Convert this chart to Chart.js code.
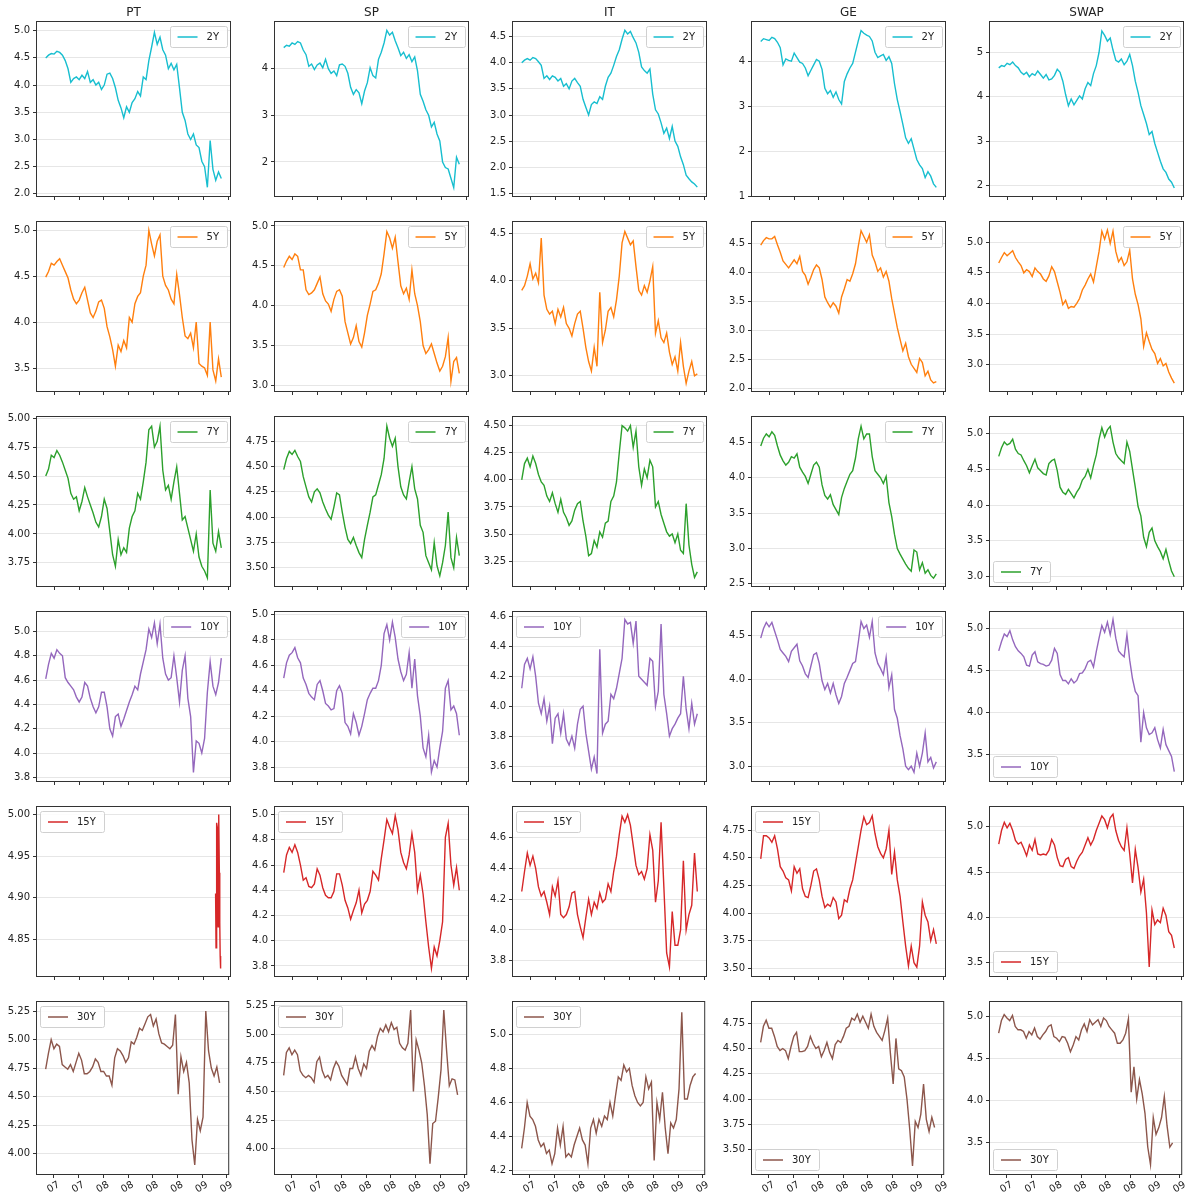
<!DOCTYPE html>
<html>
<head>
<meta charset="utf-8">
<script src="https://cdn.jsdelivr.net/npm/chart.js@4.4.1/dist/chart.umd.min.js"></script>
<style>
  body { margin: 0; background: #fff; }
  #grid { position: relative; width: 1192px; height: 1196px; }
  #grid canvas { position: absolute; }
</style>
</head>
<body>
<div id="grid"></div>
<script>
// columns / rows of the grid
const markets = ['PT', 'SP', 'IT', 'GE', 'SWAP'];
const tenors = ['2Y', '5Y', '7Y', '10Y', '15Y', '30Y'];

// x axis: months counted from Jan-2007, ticks every quarter (Jul-07 .. Apr-09)
const xTickMonths = [6, 9, 12, 15, 18, 21, 24, 27];
const xTickLabels = ['07', '07', '08', '08', '08', '08', '09', '09'];
const firstMonth = 5.0;    // first observation, ~Jun-2007
const stepMonth = 0.335;   // ~10 days between samples

// ---- 2Y ----
const PT_2Y = [4.50,4.55,4.58,4.57,4.62,4.60,4.55,4.45,4.30,4.05,4.12,4.15,4.10,4.18,4.12,4.25,
  4.05,4.10,4.00,4.05,3.92,4.00,4.20,4.22,4.12,3.95,3.72,3.58,3.40,3.60,3.50,3.68,
  3.75,3.88,3.80,4.15,4.10,4.45,4.70,4.97,4.75,4.88,4.65,4.55,4.30,4.40,4.28,4.38,
  3.95,3.50,3.35,3.10,3.00,3.10,2.90,2.85,2.60,2.50,2.12,2.98,2.45,2.25,2.40,2.28];
const SP_2Y = [4.45,4.50,4.48,4.55,4.52,4.58,4.55,4.40,4.30,4.05,4.10,3.98,4.08,4.12,4.02,4.20,
  4.00,3.90,3.95,3.85,4.08,4.10,4.05,3.90,3.60,3.45,3.55,3.48,3.25,3.52,3.70,4.02,
  3.85,3.80,4.20,4.35,4.55,4.82,4.72,4.78,4.60,4.45,4.28,4.35,4.22,4.30,4.15,4.25,
  3.95,3.45,3.30,3.12,3.00,2.75,2.85,2.60,2.45,2.00,1.88,1.85,1.65,1.45,2.10,1.95];
const IT_2Y = [4.00,4.05,4.08,4.05,4.10,4.08,4.02,3.95,3.70,3.75,3.68,3.75,3.72,3.65,3.70,3.55,
  3.60,3.50,3.65,3.70,3.62,3.55,3.30,3.15,3.00,3.20,3.25,3.22,3.35,3.30,3.55,3.72,
  3.80,3.95,4.12,4.25,4.45,4.62,4.55,4.60,4.48,4.38,4.20,3.92,3.85,3.80,3.88,3.40,
  3.10,3.02,2.85,2.65,2.75,2.55,2.78,2.50,2.40,2.20,2.05,1.85,1.78,1.72,1.68,1.62];
const GE_2Y = [4.44,4.50,4.48,4.46,4.53,4.50,4.42,4.30,3.92,4.05,4.02,4.00,4.18,4.08,3.98,3.95,
  3.85,3.68,3.80,3.92,4.04,4.00,3.82,3.40,3.28,3.35,3.20,3.32,3.15,3.05,3.55,3.72,
  3.85,3.95,4.20,4.45,4.68,4.62,4.58,4.55,4.45,4.20,4.08,4.12,4.15,4.02,4.10,3.95,
  3.50,3.15,2.88,2.60,2.30,2.18,2.28,2.05,1.82,1.70,1.62,1.42,1.55,1.45,1.28,1.20];
const SWAP_2Y = [4.65,4.70,4.68,4.75,4.72,4.78,4.70,4.65,4.55,4.50,4.55,4.45,4.52,4.48,4.58,4.50,
  4.42,4.50,4.38,4.40,4.48,4.62,4.55,4.35,4.05,3.80,3.95,3.82,3.92,4.02,3.95,4.18,
  4.32,4.25,4.52,4.70,5.00,5.48,5.38,5.25,5.32,5.05,4.82,4.78,4.85,4.72,4.80,4.95,
  4.70,4.35,4.10,3.80,3.60,3.40,3.15,3.22,2.95,2.75,2.55,2.38,2.30,2.15,2.08,1.95];

// ---- 5Y ----
const PT_5Y = [4.49,4.55,4.64,4.62,4.66,4.69,4.62,4.55,4.48,4.35,4.25,4.20,4.24,4.32,4.38,4.24,
  4.10,4.05,4.12,4.22,4.24,4.15,3.95,3.84,3.70,3.52,3.75,3.68,3.80,3.72,4.05,4.00,
  4.20,4.28,4.32,4.50,4.62,5.00,4.85,4.72,4.88,4.95,4.50,4.40,4.35,4.25,4.20,4.52,
  4.30,4.05,3.85,3.82,3.88,3.72,4.00,3.55,3.52,3.50,3.42,4.00,3.48,3.36,3.60,3.40];
const SP_5Y = [4.48,4.56,4.62,4.58,4.65,4.62,4.45,4.45,4.20,4.14,4.16,4.20,4.28,4.36,4.15,4.06,
  4.02,3.93,4.08,4.18,4.20,4.12,3.80,3.66,3.52,3.60,3.75,3.55,3.48,3.66,3.88,4.02,
  4.18,4.20,4.28,4.40,4.65,4.93,4.85,4.72,4.86,4.55,4.25,4.15,4.22,4.08,4.45,4.15,
  4.00,3.80,3.50,3.40,3.45,3.52,3.40,3.28,3.18,3.24,3.36,3.60,3.05,3.30,3.35,3.15];
const IT_5Y = [3.90,3.95,4.05,4.18,4.02,4.08,3.98,4.45,3.85,3.70,3.65,3.68,3.55,3.70,3.62,3.72,
  3.55,3.50,3.42,3.55,3.65,3.68,3.50,3.30,3.15,3.05,3.30,3.10,3.88,3.35,3.48,3.68,
  3.72,3.62,3.80,4.05,4.40,4.52,4.45,4.38,4.42,4.15,3.90,3.85,3.95,3.88,4.00,4.15,
  3.45,3.58,3.40,3.35,3.45,3.25,3.12,3.20,3.05,3.35,3.10,2.92,3.05,3.15,3.00,3.02];
const GE_5Y = [4.47,4.55,4.60,4.58,4.58,4.62,4.48,4.35,4.20,4.14,4.08,4.15,4.22,4.15,4.28,4.02,
  3.95,3.80,3.92,4.05,4.13,4.08,3.88,3.58,3.48,3.40,3.48,3.42,3.30,3.58,3.72,3.88,
  3.85,3.98,4.15,4.45,4.72,4.62,4.52,4.65,4.30,4.18,4.02,4.08,3.92,4.02,3.85,3.55,
  3.30,3.05,2.85,2.65,2.78,2.55,2.42,2.35,2.28,2.52,2.45,2.22,2.30,2.15,2.10,2.12];
const SWAP_5Y = [4.66,4.75,4.83,4.78,4.82,4.86,4.75,4.68,4.62,4.50,4.55,4.52,4.44,4.58,4.52,4.48,
  4.40,4.36,4.45,4.60,4.52,4.35,4.18,3.98,4.05,3.92,3.95,3.94,4.00,4.08,4.22,4.30,
  4.40,4.48,4.35,4.60,4.85,5.18,5.05,5.20,4.98,5.18,4.85,4.68,4.75,4.62,4.68,4.87,
  4.40,4.15,3.98,3.75,3.30,3.52,3.38,3.25,3.18,3.02,3.10,2.98,3.02,2.88,2.78,2.70];

// ---- 7Y ----
const PT_7Y = [4.50,4.56,4.68,4.66,4.72,4.68,4.62,4.55,4.48,4.35,4.30,4.32,4.20,4.28,4.40,4.32,
  4.25,4.18,4.10,4.06,4.15,4.30,4.22,4.02,3.82,3.72,3.95,3.82,3.88,3.84,4.05,4.15,
  4.20,4.35,4.30,4.45,4.62,4.90,4.93,4.75,4.80,4.93,4.55,4.38,4.42,4.30,4.45,4.58,
  4.35,4.12,4.15,4.05,3.95,3.85,4.00,3.80,3.72,3.68,3.62,4.38,3.92,3.85,4.02,3.88];
const SP_7Y = [4.47,4.58,4.65,4.62,4.66,4.60,4.55,4.40,4.30,4.20,4.15,4.25,4.28,4.24,4.15,4.08,
  4.02,3.98,4.10,4.24,4.22,4.05,3.90,3.78,3.74,3.80,3.72,3.65,3.60,3.78,3.92,4.05,
  4.20,4.22,4.32,4.42,4.58,4.90,4.78,4.70,4.78,4.50,4.30,4.22,4.18,4.35,4.50,4.28,
  4.18,3.92,3.85,3.62,3.55,3.48,3.75,3.52,3.42,3.55,3.72,4.05,3.60,3.50,3.80,3.62];
const IT_7Y = [4.00,4.15,4.20,4.12,4.22,4.15,4.05,3.98,3.95,3.85,3.80,3.88,3.78,3.70,3.82,3.70,
  3.65,3.58,3.62,3.72,3.78,3.80,3.62,3.48,3.30,3.32,3.44,3.38,3.52,3.47,3.60,3.62,
  3.80,3.85,3.98,4.25,4.50,4.48,4.45,4.50,4.30,4.45,4.12,3.95,4.10,4.02,4.18,4.12,
  3.75,3.80,3.68,3.60,3.52,3.48,3.50,3.42,3.50,3.35,3.32,3.78,3.40,3.22,3.10,3.15];
const GE_7Y = [4.45,4.56,4.62,4.58,4.65,4.60,4.45,4.32,4.24,4.18,4.22,4.30,4.28,4.34,4.15,4.08,
  4.02,3.92,4.05,4.18,4.22,4.15,3.90,3.75,3.70,3.76,3.62,3.55,3.48,3.72,3.85,3.95,
  4.05,4.10,4.28,4.55,4.73,4.55,4.62,4.62,4.30,4.10,4.05,4.00,3.92,4.02,3.65,3.45,
  3.20,3.00,2.92,2.85,2.78,2.72,2.68,2.98,2.95,2.70,2.80,2.65,2.70,2.62,2.58,2.64];
const SWAP_7Y = [4.68,4.80,4.88,4.84,4.86,4.92,4.78,4.72,4.70,4.62,4.55,4.45,4.55,4.64,4.52,4.48,
  4.44,4.42,4.58,4.62,4.64,4.48,4.25,4.18,4.15,4.22,4.16,4.10,4.18,4.24,4.35,4.40,
  4.50,4.38,4.55,4.70,4.92,5.08,4.95,5.05,5.10,4.88,4.72,4.66,4.62,4.58,4.88,4.75,
  4.50,4.25,3.98,3.85,3.55,3.42,3.62,3.68,3.50,3.42,3.35,3.25,3.38,3.22,3.08,3.00];

// ---- 10Y ----
const PT_10Y = [4.61,4.73,4.82,4.78,4.85,4.82,4.80,4.62,4.58,4.55,4.52,4.46,4.42,4.46,4.58,4.55,
  4.45,4.38,4.33,4.38,4.50,4.50,4.38,4.20,4.14,4.30,4.32,4.22,4.28,4.35,4.42,4.48,
  4.55,4.52,4.65,4.75,4.85,5.02,4.95,5.07,4.90,5.06,4.78,4.65,4.60,4.62,4.80,4.62,
  4.42,4.68,4.80,4.45,4.30,3.84,4.10,4.08,4.00,4.12,4.50,4.75,4.55,4.48,4.58,4.78];
const SP_10Y = [4.50,4.62,4.68,4.70,4.74,4.66,4.62,4.50,4.45,4.38,4.35,4.33,4.45,4.48,4.40,4.30,
  4.28,4.25,4.26,4.40,4.44,4.38,4.15,4.12,4.06,4.22,4.15,4.05,4.12,4.22,4.33,4.38,
  4.42,4.42,4.48,4.60,4.85,4.92,4.80,4.94,4.82,4.65,4.55,4.48,4.53,4.70,4.42,4.65,
  4.36,4.20,3.95,3.88,4.05,3.76,3.85,3.80,3.95,4.08,4.42,4.48,4.25,4.28,4.22,4.05];
const IT_10Y = [4.12,4.28,4.32,4.25,4.33,4.20,4.02,3.95,4.05,3.90,4.00,3.75,3.92,3.95,3.82,3.95,
  3.78,3.74,3.80,3.72,3.88,3.98,4.00,3.82,3.70,3.58,3.66,3.55,4.38,3.82,3.88,3.90,
  4.08,4.05,4.12,4.22,4.32,4.58,4.55,4.56,4.42,4.57,4.20,4.18,4.16,4.14,4.32,4.30,
  4.00,4.10,4.55,4.08,3.95,3.80,3.85,3.88,3.92,3.95,4.20,3.98,3.85,4.02,3.88,3.95];
const GE_10Y = [4.47,4.58,4.65,4.60,4.65,4.55,4.45,4.34,4.30,4.26,4.20,4.32,4.36,4.40,4.21,4.15,
  4.06,4.02,4.15,4.28,4.30,4.18,3.98,3.88,3.95,3.84,3.95,3.82,3.72,3.80,3.95,4.02,
  4.10,4.18,4.20,4.42,4.66,4.58,4.62,4.48,4.66,4.30,4.18,4.12,4.05,4.25,3.90,4.05,
  3.65,3.55,3.35,3.20,3.00,2.96,3.00,2.93,3.15,3.00,3.15,3.38,3.05,3.10,2.98,3.05];
const SWAP_10Y = [4.73,4.84,4.93,4.90,4.97,4.86,4.78,4.73,4.70,4.66,4.56,4.55,4.68,4.72,4.60,4.58,
  4.57,4.55,4.56,4.62,4.76,4.70,4.45,4.38,4.38,4.34,4.40,4.35,4.38,4.46,4.47,4.52,
  4.60,4.62,4.54,4.72,4.88,5.03,4.95,5.07,4.92,5.10,4.88,4.73,4.69,4.66,4.92,4.62,
  4.40,4.25,4.20,3.65,4.00,3.82,3.74,3.76,3.82,3.68,3.58,3.80,3.62,3.55,3.48,3.30];

// ---- 15Y ----
const PT_15Y = [4.905,4.84,4.87,4.99,4.985,4.88,4.865,4.94,5.00,4.93,4.87,4.83,4.815];
const PT_15Y_months = [25.42,25.47,25.52,25.57,25.62,25.67,25.72,25.77,25.82,25.87,25.92,25.97,26.02];
const SP_15Y = [4.54,4.68,4.74,4.70,4.76,4.70,4.60,4.48,4.50,4.43,4.42,4.45,4.57,4.52,4.42,4.36,
  4.34,4.34,4.39,4.53,4.53,4.44,4.32,4.26,4.17,4.24,4.30,4.40,4.22,4.29,4.32,4.39,
  4.55,4.52,4.48,4.65,4.80,4.96,4.90,4.85,4.99,4.88,4.70,4.62,4.57,4.68,4.85,4.70,
  4.40,4.52,4.37,4.15,3.95,3.78,3.95,3.88,4.00,4.15,4.82,4.93,4.60,4.44,4.58,4.40];
const IT_15Y = [4.25,4.38,4.50,4.42,4.48,4.40,4.28,4.22,4.25,4.18,4.10,4.28,4.22,4.32,4.10,4.08,
  4.10,4.15,4.24,4.25,4.10,4.02,3.95,4.08,4.20,4.10,4.18,4.14,4.24,4.18,4.20,4.30,
  4.25,4.38,4.48,4.62,4.74,4.70,4.75,4.68,4.55,4.42,4.36,4.38,4.33,4.40,4.62,4.52,
  4.18,4.32,4.70,4.28,3.85,3.76,4.12,3.90,3.90,4.00,4.45,4.00,4.10,4.16,4.50,4.25];
const GE_15Y = [4.49,4.70,4.70,4.68,4.64,4.70,4.58,4.42,4.38,4.32,4.30,4.20,4.42,4.36,4.40,4.22,
  4.15,4.14,4.25,4.38,4.40,4.30,4.15,4.05,4.08,4.06,4.14,4.10,3.95,3.98,4.12,4.10,
  4.22,4.30,4.45,4.60,4.75,4.87,4.80,4.82,4.88,4.72,4.60,4.54,4.50,4.58,4.75,4.35,
  4.55,4.30,4.15,3.92,3.70,3.52,3.70,3.55,3.51,3.70,4.10,3.98,3.92,3.75,3.85,3.72];
const SWAP_15Y = [4.81,4.96,5.05,4.99,5.04,4.96,4.85,4.81,4.83,4.76,4.68,4.80,4.74,4.86,4.70,4.69,
  4.70,4.69,4.74,4.86,4.80,4.66,4.57,4.56,4.64,4.66,4.56,4.54,4.62,4.68,4.72,4.80,
  4.88,4.80,4.86,4.96,5.04,5.12,5.08,4.99,5.10,5.14,4.96,4.85,4.78,4.74,4.99,4.70,
  4.38,4.75,4.55,4.28,4.42,4.05,3.45,4.08,3.92,3.97,3.94,4.10,4.02,3.84,3.80,3.66];

// ---- 30Y ----
const PT_30Y = [4.74,4.88,5.00,4.92,4.96,4.94,4.78,4.76,4.74,4.78,4.72,4.80,4.88,4.82,4.70,4.70,
  4.72,4.76,4.83,4.80,4.72,4.72,4.68,4.68,4.60,4.84,4.92,4.90,4.86,4.80,4.84,4.98,
  4.96,5.02,5.10,5.08,5.14,5.20,5.22,5.12,5.18,5.05,4.97,4.96,4.94,4.92,4.95,5.22,
  4.52,4.85,4.72,4.80,4.62,4.12,3.90,4.30,4.20,4.32,5.25,4.90,4.75,4.68,4.76,4.62];
const SP_30Y = [4.64,4.84,4.88,4.82,4.86,4.82,4.68,4.64,4.62,4.64,4.62,4.58,4.76,4.80,4.68,4.62,
  4.64,4.60,4.70,4.76,4.72,4.64,4.60,4.56,4.70,4.70,4.80,4.70,4.64,4.74,4.70,4.85,
  4.90,4.86,4.98,5.05,5.02,5.08,5.02,5.10,5.04,5.06,4.92,4.88,4.86,4.92,5.21,4.50,
  4.95,4.86,4.75,4.55,4.30,3.87,4.22,4.24,4.45,4.69,5.21,4.86,4.55,4.61,4.60,4.47];
const IT_30Y = [4.33,4.45,4.60,4.52,4.50,4.46,4.38,4.34,4.36,4.30,4.32,4.24,4.30,4.45,4.35,4.46,
  4.28,4.30,4.28,4.35,4.40,4.45,4.38,4.35,4.24,4.45,4.50,4.42,4.50,4.46,4.52,4.50,
  4.60,4.52,4.64,4.75,4.73,4.82,4.78,4.80,4.70,4.64,4.60,4.58,4.60,4.75,4.68,4.72,
  4.26,4.60,4.50,4.66,4.45,4.30,4.48,4.45,4.50,4.68,5.13,4.62,4.62,4.70,4.75,4.77];
const GE_30Y = [4.56,4.72,4.78,4.70,4.70,4.62,4.52,4.48,4.50,4.48,4.40,4.52,4.62,4.66,4.47,4.47,
  4.48,4.52,4.62,4.55,4.50,4.52,4.42,4.48,4.56,4.46,4.40,4.54,4.58,4.56,4.62,4.70,
  4.72,4.80,4.78,4.84,4.76,4.82,4.76,4.70,4.84,4.72,4.66,4.62,4.58,4.68,4.80,4.45,
  4.15,4.60,4.30,4.28,4.22,4.00,3.70,3.34,3.78,3.72,3.85,4.15,3.80,3.68,3.82,3.72];
const SWAP_30Y = [4.80,4.95,5.02,4.98,4.95,5.01,4.88,4.84,4.84,4.82,4.74,4.82,4.78,4.86,4.76,4.73,
  4.78,4.82,4.88,4.90,4.76,4.74,4.70,4.76,4.75,4.68,4.58,4.66,4.76,4.72,4.84,4.91,
  4.82,4.96,4.90,4.93,4.96,4.88,4.98,4.95,4.88,4.84,4.80,4.68,4.68,4.72,4.80,4.97,
  4.10,4.40,4.02,4.25,4.08,3.85,3.45,3.24,3.80,3.60,3.68,3.80,4.05,3.70,3.45,3.50];

// y tick labels per panel (as printed on the axis)
const yTickLabels = {
  'PT 2Y': ['2.0','2.5','3.0','3.5','4.0','4.5','5.0'],
  'SP 2Y': ['2','3','4'],
  'IT 2Y': ['1.5','2.0','2.5','3.0','3.5','4.0','4.5'],
  'GE 2Y': ['1','2','3','4'],
  'SWAP 2Y': ['2','3','4','5'],
  'PT 5Y': ['3.5','4.0','4.5','5.0'],
  'SP 5Y': ['3.0','3.5','4.0','4.5','5.0'],
  'IT 5Y': ['3.0','3.5','4.0','4.5'],
  'GE 5Y': ['2.0','2.5','3.0','3.5','4.0','4.5'],
  'SWAP 5Y': ['3.0','3.5','4.0','4.5','5.0'],
  'PT 7Y': ['3.75','4.00','4.25','4.50','4.75','5.00'],
  'SP 7Y': ['3.50','3.75','4.00','4.25','4.50','4.75'],
  'IT 7Y': ['3.25','3.50','3.75','4.00','4.25','4.50'],
  'GE 7Y': ['2.5','3.0','3.5','4.0','4.5'],
  'SWAP 7Y': ['3.0','3.5','4.0','4.5','5.0'],
  'PT 10Y': ['3.8','4.0','4.2','4.4','4.6','4.8','5.0'],
  'SP 10Y': ['3.8','4.0','4.2','4.4','4.6','4.8','5.0'],
  'IT 10Y': ['3.6','3.8','4.0','4.2','4.4','4.6'],
  'GE 10Y': ['3.0','3.5','4.0','4.5'],
  'SWAP 10Y': ['3.5','4.0','4.5','5.0'],
  'PT 15Y': ['4.85','4.90','4.95','5.00'],
  'SP 15Y': ['3.8','4.0','4.2','4.4','4.6','4.8','5.0'],
  'IT 15Y': ['3.8','4.0','4.2','4.4','4.6'],
  'GE 15Y': ['3.50','3.75','4.00','4.25','4.50','4.75'],
  'SWAP 15Y': ['3.5','4.0','4.5','5.0'],
  'PT 30Y': ['4.00','4.25','4.50','4.75','5.00','5.25'],
  'SP 30Y': ['4.00','4.25','4.50','4.75','5.00','5.25'],
  'IT 30Y': ['4.2','4.4','4.6','4.8','5.0'],
  'GE 30Y': ['3.50','3.75','4.00','4.25','4.50','4.75'],
  'SWAP 30Y': ['3.5','4.0','4.5','5.0']
};

// y axis limits per panel
const yLimits = {
  'PT 2Y': [1.96, 5.16], 'SP 2Y': [1.27, 5.00], 'IT 2Y': [1.45, 4.78], 'GE 2Y': [1.01, 4.87], 'SWAP 2Y': [1.77, 5.68],
  'PT 5Y': [3.25, 5.09], 'SP 5Y': [2.93, 5.05], 'IT 5Y': [2.84, 4.62], 'GE 5Y': [1.96, 4.87], 'SWAP 5Y': [2.57, 5.33],
  'PT 7Y': [3.55, 5.01], 'SP 7Y': [3.32, 4.99], 'IT 7Y': [3.02, 4.58], 'GE 7Y': [2.47, 4.86], 'SWAP 7Y': [2.87, 5.23],
  'PT 10Y': [3.77, 5.16], 'SP 10Y': [3.69, 5.02], 'IT 10Y': [3.50, 4.63], 'GE 10Y': [2.83, 4.77], 'SWAP 10Y': [3.19, 5.19],
  'PT 15Y': [4.806, 5.009], 'SP 15Y': [3.72, 5.06], 'IT 15Y': [3.70, 4.80], 'GE 15Y': [3.43, 4.96], 'SWAP 15Y': [3.35, 5.22],
  'PT 30Y': [3.82, 5.33], 'SP 30Y': [3.78, 5.28], 'IT 30Y': [4.18, 5.19], 'GE 30Y': [3.26, 4.96], 'SWAP 30Y': [3.13, 5.17]
};

// legend corner: ur = upper right, ul = upper left, ll = lower left
const legendLoc = {
  'SWAP 7Y': 'll', 'IT 10Y': 'ul', 'SWAP 10Y': 'll',
  'PT 15Y': 'ul', 'SP 15Y': 'ul', 'IT 15Y': 'ul', 'GE 15Y': 'ul', 'SWAP 15Y': 'll',
  'PT 30Y': 'ul', 'SP 30Y': 'ul', 'IT 30Y': 'ul', 'GE 30Y': 'll', 'SWAP 30Y': 'll'
};

const series = {
  'PT 2Y': PT_2Y, 'SP 2Y': SP_2Y, 'IT 2Y': IT_2Y, 'GE 2Y': GE_2Y, 'SWAP 2Y': SWAP_2Y,
  'PT 5Y': PT_5Y, 'SP 5Y': SP_5Y, 'IT 5Y': IT_5Y, 'GE 5Y': GE_5Y, 'SWAP 5Y': SWAP_5Y,
  'PT 7Y': PT_7Y, 'SP 7Y': SP_7Y, 'IT 7Y': IT_7Y, 'GE 7Y': GE_7Y, 'SWAP 7Y': SWAP_7Y,
  'PT 10Y': PT_10Y, 'SP 10Y': SP_10Y, 'IT 10Y': IT_10Y, 'GE 10Y': GE_10Y, 'SWAP 10Y': SWAP_10Y,
  'PT 15Y': PT_15Y, 'SP 15Y': SP_15Y, 'IT 15Y': IT_15Y, 'GE 15Y': GE_15Y, 'SWAP 15Y': SWAP_15Y,
  'PT 30Y': PT_30Y, 'SP 30Y': SP_30Y, 'IT 30Y': IT_30Y, 'GE 30Y': GE_30Y, 'SWAP 30Y': SWAP_30Y
};
const seriesMonths = { 'PT 15Y': PT_15Y_months };

const tenorColors = {
  '2Y': '#17becf', '5Y': '#ff7f0e', '7Y': '#2ca02c',
  '10Y': '#9467bd', '15Y': '#d62728', '30Y': '#8c564b'
};

// ---- layout (px) ----
const FONT = '"DejaVu Sans", "Liberation Sans", sans-serif';
const PLOT_LEFT0 = 37, COL_STEP = 238.2, PLOT_W = 193;
const PLOT_TOP0 = 22, ROW_STEP = 195, PLOT_H = 177;
const Y_AXIS_W = 37;
const X_MIN = 3.95, X_MAX = 27.15;

Chart.defaults.font.family = FONT;
Chart.defaults.font.size = 10;
Chart.defaults.color = '#222';

// frame, in-axes legend and column title, matplotlib style
const panelDecor = {
  id: 'panelDecor',
  afterDraw(chart, args, opts) {
    const { ctx, chartArea: a } = chart;
    ctx.save();
    ctx.strokeStyle = '#333';
    ctx.lineWidth = 1;
    ctx.strokeRect(a.left - 0.5, a.top - 0.5, a.width + 1, a.height + 1);

    const ds = chart.data.datasets[0];
    ctx.font = '10px ' + FONT;
    const tw = ctx.measureText(ds.label).width;
    const w = 8 + 20 + 9 + tw + 8, h = 21, m = 3;
    const x = opts.loc[1] === 'r' ? a.right - m - w : a.left + m;
    const y = opts.loc[0] === 'u' ? a.top + m + 1 : a.bottom - m - h - 1;
    ctx.beginPath();
    ctx.roundRect(Math.round(x) + 0.5, Math.round(y) + 0.5, Math.round(w), h, 2);
    ctx.fillStyle = 'rgba(255,255,255,0.85)';
    ctx.fill();
    ctx.strokeStyle = '#d0d0d0';
    ctx.stroke();
    ctx.beginPath();
    ctx.moveTo(x + 8, y + h / 2 + 0.5);
    ctx.lineTo(x + 28, y + h / 2 + 0.5);
    ctx.strokeStyle = ds.borderColor;
    ctx.lineWidth = 1.5;
    ctx.stroke();
    ctx.fillStyle = '#222';
    ctx.textBaseline = 'middle';
    ctx.textAlign = 'left';
    ctx.fillText(ds.label, x + 37, y + h / 2 + 1);

    if (opts.title) {
      ctx.font = '12px ' + FONT;
      ctx.textAlign = 'center';
      ctx.fillText(opts.title, (a.left + a.right) / 2, a.top - 9);
    }
    ctx.restore();
  }
};

const grid = document.getElementById('grid');

tenors.forEach((tenor, r) => {
  markets.forEach((mkt, c) => {
    const key = mkt + ' ' + tenor;
    const vals = series[key];
    const months = seriesMonths[key];
    const points = vals.map((v, i) => ({ x: months ? months[i] : firstMonth + i * stepMonth, y: v }));
    const yt = yTickLabels[key];
    const [ymin, ymax] = yLimits[key];

    const padTop = r === 0 ? PLOT_TOP0 : 4;
    const xAxisH = r === tenors.length - 1 ? 28 : 6;
    const plotLeft = Math.round(PLOT_LEFT0 + c * COL_STEP);
    const plotTop = Math.round(PLOT_TOP0 + r * ROW_STEP);

    const canvas = document.createElement('canvas');
    canvas.width = Y_AXIS_W + PLOT_W + 4;
    canvas.height = padTop + PLOT_H + xAxisH;
    canvas.style.left = (plotLeft - Y_AXIS_W) + 'px';
    canvas.style.top = (plotTop - padTop) + 'px';
    grid.appendChild(canvas);

    new Chart(canvas.getContext('2d'), {
      type: 'line',
      data: {
        datasets: [{
          label: tenor,
          data: points,
          borderColor: tenorColors[tenor],
          borderWidth: 1.4,
          pointRadius: 0,
          tension: 0,
          fill: false
        }]
      },
      options: {
        responsive: false,
        animation: false,
        events: [],
        layout: { padding: { top: padTop, right: 4, left: 0, bottom: 0 } },
        plugins: {
          legend: { display: false },
          tooltip: { enabled: false },
          panelDecor: { loc: legendLoc[key] || 'ur', title: r === 0 ? mkt : null }
        },
        scales: {
          x: {
            type: 'linear',
            min: X_MIN,
            max: X_MAX,
            afterBuildTicks: s => { s.ticks = xTickMonths.map(v => ({ value: v })); },
            afterFit: s => { s.height = xAxisH; },
            border: { display: false },
            grid: { drawOnChartArea: false, drawTicks: true, tickLength: 4, color: '#333' },
            ticks: {
              display: r === tenors.length - 1,
              autoSkip: false,
              minRotation: 30,
              maxRotation: 30,
              padding: 1,
              labelOffset: 5,
              font: { size: 10 },
              callback: (v, i) => xTickLabels[i]
            }
          },
          y: {
            min: ymin,
            max: ymax,
            afterBuildTicks: s => { s.ticks = yt.map(t => ({ value: parseFloat(t) })); },
            afterFit: s => { s.width = Y_AXIS_W; },
            border: { display: false },
            grid: { color: '#e6e6e6', tickColor: '#333', drawTicks: true, tickLength: 4 },
            ticks: {
              autoSkip: false,
              padding: 3,
              font: { size: 10 },
              callback: (v, i) => yt[i]
            }
          }
        }
      },
      plugins: [panelDecor]
    });
  });
});
</script>
</body>
</html>
